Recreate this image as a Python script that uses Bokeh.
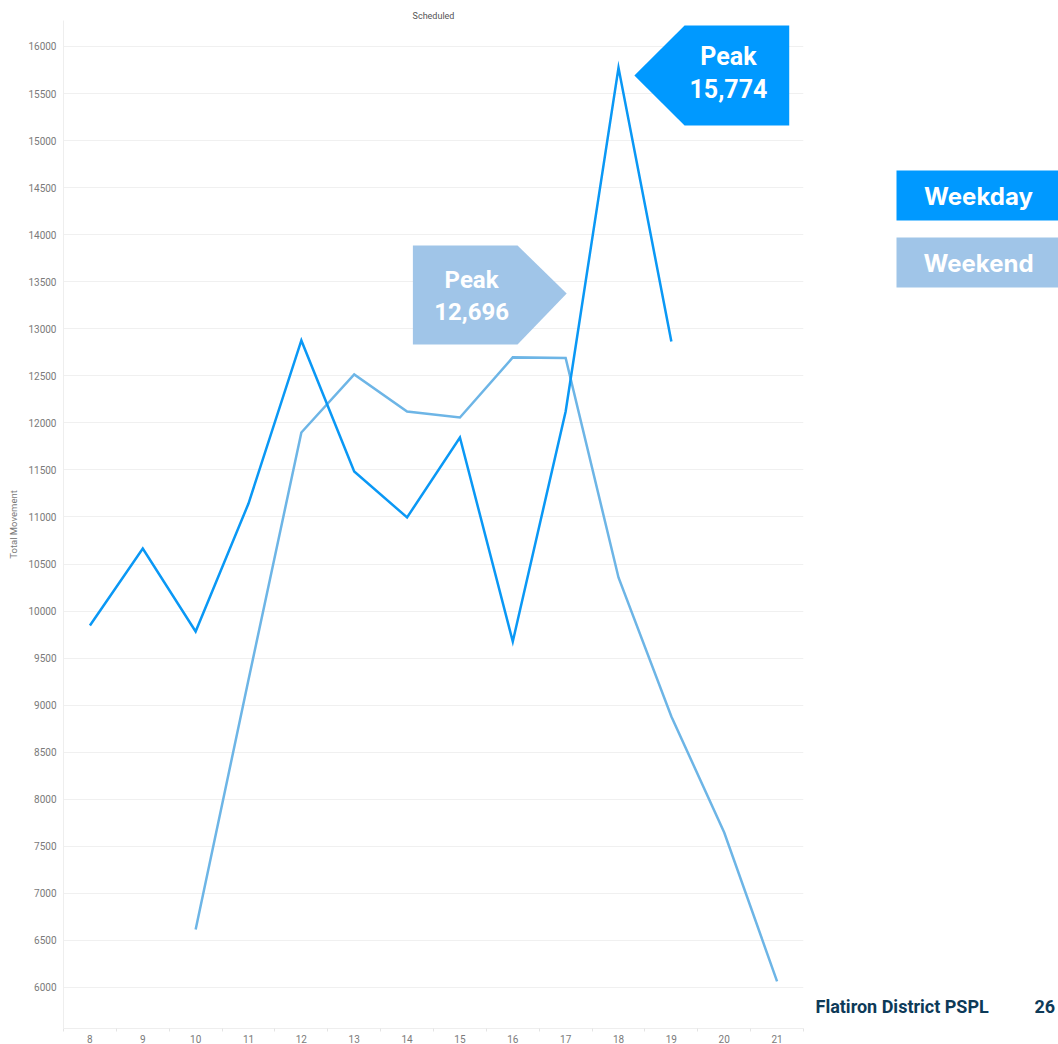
from bokeh.plotting import figure
from bokeh.layouts import row
from bokeh.models import Range1d, FixedTicker, ColumnDataSource
from bokeh.core.properties import value
from bokeh.embed import file_html
from bokeh.resources import INLINE

# ---------------- data ----------------
series_names = ["Weekday", "Weekend"]
weekday_hours = [8, 9, 10, 11, 12, 13, 14, 15, 16, 17, 18, 19]
weekday_values = [9847, 10665, 9783, 11143, 12876, 11484, 10995, 11845, 9677, 12121, 15774, 12865]
weekend_hours = [10, 11, 12, 13, 14, 15, 16, 17, 18, 19, 20, 21]
weekend_values = [6616, 9270, 11898, 12514, 12121, 12057, 12696, 12690, 10357, 8880, 7647, 6064]
hour_ticks = list(range(8, 22))
y_ticks = list(range(6000, 16001, 500))
title_text = "Scheduled"
y_label = "Total Movement"
footer_text = "Flatiron District PSPL"
page_number = "26"

# ---------------- styles ----------------
WEEKDAY_LINE = "#0A98F5"
WEEKEND_LINE = "#6DB5E6"
WEEKDAY_BOX = "#0099FF"
WEEKEND_BOX = "#A0C5E8"
GRID = "#F0F0F0"
TICK_TEXT = "#7A7A7A"
FOOTER = "#0D3A58"

p = figure(
    frame_width=740, frame_height=1008,
    min_border_left=63, min_border_right=2, min_border_top=20, min_border_bottom=16,
    x_range=Range1d(7.5, 21.5), y_range=Range1d(5564, 16276),
    output_backend="svg", toolbar_location=None,
    title=title_text,
)
p.outline_line_color = None
p.background_fill_color = "white"
p.border_fill_color = "white"

p.title.align = "center"
p.title.text_font = "Roboto"
p.title.text_font_size = "9px"
p.title.text_font_style = "normal"
p.title.text_color = "#555555"
p.title.standoff = 0
p.title.offset = 0

# axes
p.xaxis.ticker = FixedTicker(ticks=hour_ticks, minor_ticks=[h - 0.5 for h in hour_ticks] + [hour_ticks[-1] + 0.5])
p.xaxis.major_tick_line_color = None
p.xaxis.minor_tick_line_color = "#E4E4E4"
p.xaxis.minor_tick_in = 0
p.xaxis.minor_tick_out = 3
p.xaxis.major_tick_out = 0
p.xaxis.major_tick_in = 0
p.xaxis.axis_line_color = "#EEEEEE"
p.xaxis.major_label_text_font = "Roboto"
p.xaxis.major_label_text_font_size = "10px"
p.xaxis.major_label_text_color = TICK_TEXT
p.xaxis.major_label_standoff = 3

p.yaxis.ticker = FixedTicker(ticks=y_ticks)
p.yaxis.major_tick_line_color = None
p.yaxis.minor_tick_line_color = None
p.yaxis.major_tick_out = 0
p.yaxis.major_tick_in = 0
p.yaxis.axis_line_color = "#EEEEEE"
p.yaxis.major_label_text_font = "Roboto"
p.yaxis.major_label_text_font_size = "10px"
p.yaxis.major_label_text_color = TICK_TEXT
p.yaxis.major_label_standoff = 7
p.yaxis.axis_label = y_label
p.yaxis.axis_label_text_font = "Roboto"
p.yaxis.axis_label_text_font_size = "9.5px"
p.yaxis.axis_label_text_font_style = "normal"
p.yaxis.axis_label_text_color = TICK_TEXT
p.yaxis.axis_label_standoff = 6

p.xgrid.grid_line_color = None
p.ygrid.grid_line_color = GRID
p.ygrid.grid_line_width = 1

# lines
p.line(weekend_hours, weekend_values, line_color=WEEKEND_LINE, line_width=2.5, line_join="miter")
p.line(weekday_hours, weekday_values, line_color=WEEKDAY_LINE, line_width=2.5, line_join="miter")

# callouts anchored at each series' peak
wd_i = weekday_values.index(max(weekday_values))
wd_x, wd_y = weekday_hours[wd_i], weekday_values[wd_i]
we_i = weekend_values.index(max(weekend_values))
we_x, we_y = weekend_hours[we_i], weekend_values[we_i]

# weekday callout (arrow pointing left toward the peak)
wd_xs = [wd_x + 0.30, wd_x + 1.25, wd_x + 3.23, wd_x + 3.23, wd_x + 1.25]
wd_ys = [wd_y - 82, wd_y + 449, wd_y + 449, wd_y - 614, wd_y - 614]
p.patch(wd_xs, wd_ys, fill_color=WEEKDAY_BOX, line_color=None)
p.text(x=[wd_x + 2.08, wd_x + 2.08], y=[wd_y + 120, wd_y - 220],
       text=["Peak", f"{wd_y:,}"],
       text_font=value("Roboto"), text_font_style="bold", text_font_size="25px",
       text_color="white", text_align="center", text_baseline="middle")

# weekend callout (arrow pointing right)
we_xs = [we_x - 1.89, we_x + 0.09, we_x + 1.02, we_x + 0.09, we_x - 1.89]
we_ys = [we_y + 1189, we_y + 1189, we_y + 679, we_y + 137, we_y + 137]
p.patch(we_xs, we_ys, fill_color=WEEKEND_BOX, line_color=None)
p.text(x=[we_x - 0.78, we_x - 0.78], y=[we_y + 817, we_y + 488],
       text=["Peak", f"{we_y:,}"],
       text_font=value("Roboto"), text_font_style="bold", text_font_size="24px",
       text_color="white", text_align="center", text_baseline="middle")

# ---------------- side panel: legend + footer ----------------
# frame spans page y 20..1028, so the range maps directly to page pixels
s = figure(
    frame_width=253, frame_height=1008, x_range=Range1d(0, 253), y_range=Range1d(1028, 20),
    output_backend="svg", toolbar_location=None,
    min_border_left=0, min_border_right=0, min_border_top=20, min_border_bottom=16,
)
s.axis.visible = False
s.grid.visible = False
s.outline_line_color = None
s.background_fill_color = "white"
s.border_fill_color = "white"

leg = ColumnDataSource(dict(
    left=[91, 91], right=[260, 260], top=[170, 237], bottom=[220, 287],
    color=[WEEKDAY_BOX, WEEKEND_BOX], name=series_names,
    tx=[173, 173], ty=[196, 263],
))
s.quad(left="left", right="right", top="top", bottom="bottom", fill_color="color",
       line_color=None, source=leg)
s.text(x="tx", y="ty", text="name", source=leg, text_font=value("Inter"),
       text_font_style="bold", text_font_size="24px", text_color="white",
       text_align="center", text_baseline="middle")

s.text(x=[10], y=[1006], text=[footer_text], text_font=value("Roboto"),
       text_font_style="bold", text_font_size="18px", text_color=FOOTER,
       text_align="left", text_baseline="middle")
s.text(x=[229], y=[1006], text=[page_number], text_font=value("Roboto"),
       text_font_style="bold", text_font_size="18px", text_color=FOOTER,
       text_align="left", text_baseline="middle")

layout = row(p, s)
open("out.html", "w").write(file_html(layout, INLINE))
